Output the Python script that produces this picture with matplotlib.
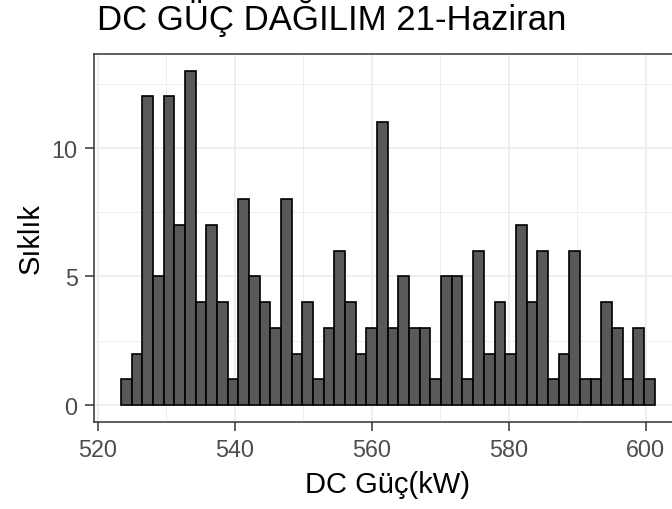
import matplotlib
matplotlib.use('Agg')
import matplotlib.pyplot as plt
from matplotlib.ticker import MultipleLocator
import numpy as np

# histogram counts, left to right (50 bins)
counts = [1, 2, 12, 5, 12, 7, 13, 4, 7, 4,
          1, 8, 5, 4, 3, 8, 2, 4, 1, 3,
          6, 4, 2, 3, 11, 3, 5, 3, 3, 1,
          5, 5, 1, 6, 2, 4, 2, 7, 4, 6,
          1, 2, 6, 1, 1, 4, 3, 1, 3, 1]
bin_lo = 523.4      # left edge of first bin, kW
bin_hi = 601.3      # right edge of last bin, kW
x_ticks = [520, 540, 560, 580, 600]
y_ticks = [0, 5, 10]

title = 'DC GÜÇ DAĞILIM 21-Haziran'
xlabel = 'DC Güç(kW)'
ylabel = 'Sıklık'

plt.rcParams['font.family'] = ['Liberation Sans', 'DejaVu Sans']

edges = np.linspace(bin_lo, bin_hi, len(counts) + 1)
widths = np.diff(edges)

fig = plt.figure(figsize=(6.72, 5.10), dpi=100)
ax = fig.add_axes([0.1403, 0.1712, 0.8735, 0.7210])

ax.bar(edges[:-1], counts, width=widths, align='edge',
       color='#595959', edgecolor='black', linewidth=1.2, zorder=3)

span = bin_hi - bin_lo
ax.set_xlim(bin_lo - 0.05 * span, bin_hi + 0.05 * span)
ax.set_ylim(-0.05 * max(counts), 1.05 * max(counts))

ax.set_xticks(x_ticks)
ax.set_yticks(y_ticks)
ax.xaxis.set_minor_locator(MultipleLocator(10))
ax.yaxis.set_minor_locator(MultipleLocator(2.5))
ax.grid(which='major', color='#ebebeb', linewidth=1.1, zorder=0)
ax.grid(which='minor', color='#ebebeb', linewidth=0.55, zorder=0)
ax.set_axisbelow(True)

for s in ax.spines.values():
    s.set_color('#333333')
    s.set_linewidth(1.1)

ax.tick_params(which='major', length=6.5, width=1.1, color='#333333',
               labelcolor='#4d4d4d', labelsize=16.8, pad=5.5)
ax.tick_params(which='minor', length=0)

ax.set_xlabel(xlabel, fontsize=21, color='black', labelpad=6)
ax.set_ylabel(ylabel, fontsize=21, color='black')
ax.yaxis.set_label_coords(-0.084, 0.5)

fig.text(96.7 / 672, 1 - 30 / 510, title, fontsize=25, color='black',
         ha='left', va='baseline')

fig.savefig('out.png', dpi=100)
